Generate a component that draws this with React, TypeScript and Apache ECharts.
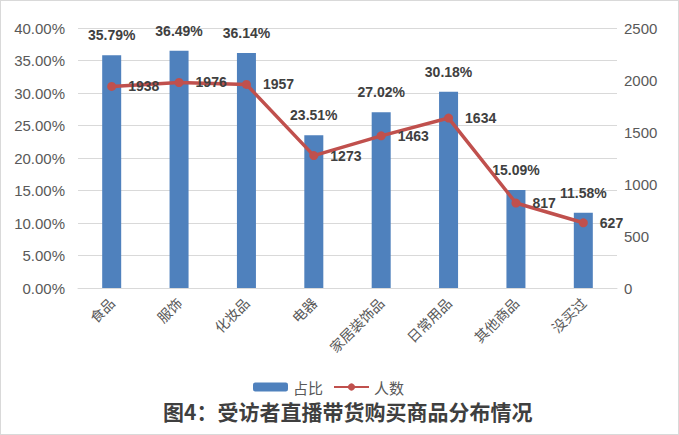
import React, { useRef, useEffect } from 'react';
import * as echarts from 'echarts';

const CATEGORIES = ['食品', '服饰', '化妆品', '电器', '家居装饰品', '日常用品', '其他商品', '没买过'];
const SHARE = [35.79, 36.49, 36.14, 23.51, 27.02, 30.18, 15.09, 11.58];
const COUNT = [1938, 1976, 1957, 1273, 1463, 1634, 817, 627];

const FONT = '"Liberation Sans", "Noto Sans CJK SC", sans-serif';
const CJK = '"Noto Sans CJK SC", sans-serif';
const AXIS_GRAY = '#595959';
const LABEL_DARK = '#404040';
const BAR_BLUE = '#4f81bd';
const LINE_RED = '#c0504d';

export default function App() {
  const chartRef = useRef<HTMLDivElement>(null);

  useEffect(() => {
    if (!chartRef.current) return;
    const chart = echarts.init(chartRef.current, undefined, { renderer: 'svg' });

    const option: echarts.EChartsOption = {
      animation: false,
      backgroundColor: '#ffffff',
      title: {
        text: '图4：受访者直播带货购买商品分布情况',
        left: 162,
        top: 398,
        padding: 0,
        textStyle: { fontFamily: CJK, fontSize: 21, fontWeight: 'bold', color: '#3f3f3f', lineHeight: 24 },
      },
      legend: {
        left: 252,
        top: 378,
        padding: 0,
        itemWidth: 35,
        itemHeight: 9,
        itemGap: 10,
        textStyle: { fontFamily: CJK, fontSize: 15, color: AXIS_GRAY, lineHeight: 16 },
        data: ['占比', '人数'],
      },
      grid: { left: 77, right: 61, top: 27, bottom: 146 },
      xAxis: {
        type: 'category',
        data: CATEGORIES,
        axisTick: { show: false },
        axisLine: { lineStyle: { color: '#d9d9d9' } },
        axisLabel: {
          rotate: 45,
          margin: 12,
          interval: 0,
          fontFamily: CJK,
          fontSize: 14,
          color: AXIS_GRAY,
        },
      },
      yAxis: [
        {
          type: 'value',
          min: 0,
          max: 40,
          interval: 5,
          axisLine: { show: false },
          axisTick: { show: false },
          splitLine: { lineStyle: { color: '#d9d9d9' } },
          axisLabel: {
            margin: 13,
            fontFamily: FONT,
            fontSize: 15,
            color: AXIS_GRAY,
            formatter: (v: number) => `${v.toFixed(2)}%`,
          },
        },
        {
          type: 'value',
          min: 0,
          max: 2500,
          interval: 500,
          axisLine: { show: false },
          axisTick: { show: false },
          splitLine: { show: false },
          axisLabel: {
            margin: 7,
            fontFamily: FONT,
            fontSize: 15,
            color: AXIS_GRAY,
            formatter: (v: number) => String(v),
          },
        },
      ],
      series: [
        {
          name: '占比',
          type: 'bar',
          data: SHARE,
          barWidth: 19,
          itemStyle: { color: BAR_BLUE },
          label: {
            show: true,
            position: 'top',
            distance: 13,
            fontFamily: FONT,
            fontSize: 14,
            fontWeight: 'bold',
            color: LABEL_DARK,
            formatter: (p: any) => `${p.value.toFixed(2)}%`,
          },
        },
        {
          name: '人数',
          type: 'line',
          yAxisIndex: 1,
          data: COUNT,
          symbol: 'circle',
          symbolSize: 9,
          itemStyle: { color: LINE_RED },
          lineStyle: { color: LINE_RED, width: 3.5 },
          label: {
            show: true,
            position: 'right',
            distance: 12,
            fontFamily: FONT,
            fontSize: 14,
            fontWeight: 'bold',
            color: LABEL_DARK,
          },
        },
      ],
    };

    chart.setOption(option);
    return () => chart.dispose();
  }, []);

  return (
    <div
      style={{
        position: 'fixed',
        left: 0,
        top: 0,
        width: 679,
        height: 435,
        boxSizing: 'border-box',
        border: '1px solid #d9d9d9',
        background: '#fff',
      }}
    >
      <div ref={chartRef} style={{ width: 677, height: 433 }} />
    </div>
  );
}
